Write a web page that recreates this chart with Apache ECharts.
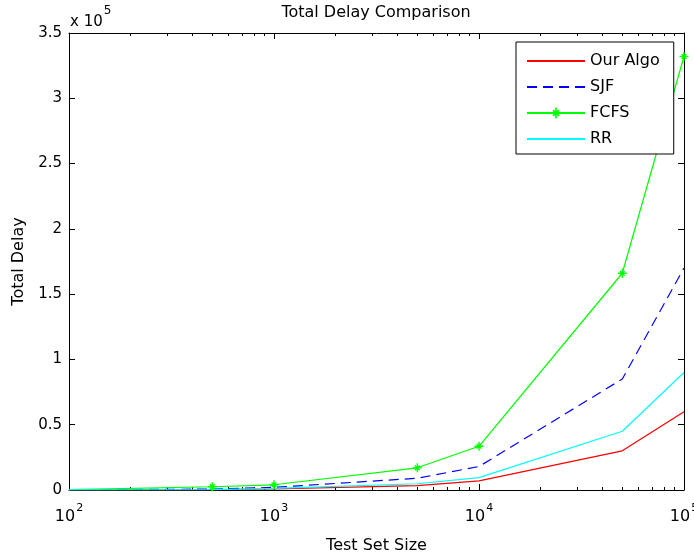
<!DOCTYPE html>
<html>
<head>
<meta charset="utf-8">
<title>Total Delay Comparison</title>
<script src="https://cdn.jsdelivr.net/npm/echarts@6/dist/echarts.min.js"></script>
<style>
html,body{margin:0;padding:0;background:#fff;}
#main{width:694px;height:558px;}
</style>
</head>
<body>
<div id="main"></div>
<script>
// test set sizes (x, log scale)
var sizes = [100, 500, 1000, 5000, 10000, 50000, 100000];
// total delay per algorithm
var ourAlgo = [50, 200, 800, 3300, 7000, 30000, 60000];
var sjf = [100, 700, 2000, 9000, 18000, 85000, 170000];
var fcfs = [300, 2500, 4000, 17000, 33500, 166000, 332000];
var rr = [80, 300, 1200, 4800, 9500, 45000, 90000];
var seriesNames = ['Our Algo', 'SJF', 'FCFS', 'RR'];
// minor ticks of the log axis
var minorTicks = [200, 300, 400, 500, 600, 700, 800, 900,
	2000, 3000, 4000, 5000, 6000, 7000, 8000, 9000,
	20000, 30000, 40000, 50000, 60000, 70000, 80000, 90000];

var font = 'DejaVu Sans, Liberation Sans, sans-serif';

// matlab '*' marker
var starPath = 'path://M-1,-0.15 L1,-0.15 L1,0.15 L-1,0.15 Z ' +
	'M-0.15,-1 L0.15,-1 L0.15,1 L-0.15,1 Z ' +
	'M-0.424,-0.636 L0.636,0.424 L0.424,0.636 L-0.636,-0.424 Z ' +
	'M-0.636,0.424 L0.424,-0.636 L0.636,-0.424 L-0.424,0.636 Z';

function pairs(ys){
	var out = [];
	for(var i=0;i<sizes.length;i++){
		out.push([sizes[i], ys[i]]);
	}
	return out;
}

var fcfsData = pairs(fcfs);
//第一个点不画标记
fcfsData[0] = {value: fcfsData[0], symbol: 'none'};

function logAxis(pos, minor){
	return {
		type: 'log',
		logBase: 10,
		min: 100,
		max: 100000,
		position: pos,
		gridIndex: 0,
		axisLine: {show: !minor, lineStyle: {color: '#000', width: 1}},
		axisTick: minor ?
			{show: true, inside: true, length: 3, customValues: minorTicks, lineStyle: {color: '#000'}} :
			{show: true, inside: true, length: 6, lineStyle: {color: '#000'}},
		axisLabel: {show: false},
		splitLine: {show: false},
		minorTick: {show: false}
	};
}

var xBottom = logAxis('bottom', false);
xBottom.axisLabel = {
	show: true,
	margin: 13,
	color: '#000',
	fontFamily: font,
	formatter: function(v){
		var e = Math.round(Math.log(v)/Math.LN10);
		return '{b|10}{s|' + e + '}';
	},
	rich: {
		b: {fontSize: 16, fontFamily: font, color: '#000'},
		s: {fontSize: 11, fontFamily: font, color: '#000', padding: [0, 0, 17, 1]}
	}
};
xBottom.name = 'Test Set Size';
xBottom.nameLocation = 'middle';
xBottom.nameGap = 48;
xBottom.nameTextStyle = {fontSize: 16, fontFamily: font, color: '#000'};

function valAxis(pos, labels){
	return {
		type: 'value',
		min: 0,
		max: 350000,
		interval: 50000,
		position: pos,
		axisLine: {show: true, lineStyle: {color: '#000', width: 1}},
		axisTick: {show: true, inside: true, length: 6, lineStyle: {color: '#000'}},
		axisLabel: {
			show: labels,
			margin: 7,
			fontSize: 15,
			fontFamily: font,
			color: '#000',
			formatter: function(v){ return String(v/100000); }
		},
		splitLine: {show: false}
	};
}

var yLeft = valAxis('left', true);
yLeft.name = 'Total Delay';
yLeft.nameLocation = 'middle';
yLeft.nameGap = 42;
yLeft.nameTextStyle = {fontSize: 16, fontFamily: font, color: '#000'};

// 图例里没有标记的线
function legendItem(name, marker){
	if(marker){
		return {name: name};
	}
	return {name: name, itemStyle: {color: 'rgba(0,0,0,0)', borderColor: 'rgba(0,0,0,0)', borderWidth: 0}};
}

var option = {
	animation: false,
	backgroundColor: '#fff',
	title: {
		text: 'Total Delay Comparison',
		left: 376,
		top: 5,
		padding: 0,
		textAlign: 'center',
		textStyle: {fontSize: 16, fontWeight: 'normal', fontFamily: font, color: '#000'}
	},
	graphic: [{
		type: 'text',
		left: 70,
		top: 5,
		style: {
			text: '{a|x 10}{b|5}',
			rich: {
				a: {fontSize: 15, fontFamily: font, fill: '#000'},
				b: {fontSize: 12, fontFamily: font, fill: '#000', padding: [0, 0, 22, 1]}
			}
		}
	}],
	grid: {left: 69, right: 10, top: 33, bottom: 68, containLabel: false, outerBoundsMode: 'none'},
	legend: {
		orient: 'vertical',
		left: 516,
		top: 42,
		padding: [11, 14, 7, 10],
		itemGap: 10,
		itemWidth: 58,
		itemHeight: 14,
		backgroundColor: '#fff',
		borderColor: '#000',
		borderWidth: 1,
		borderRadius: 0,
		textStyle: {fontSize: 16, fontFamily: font, color: '#000'},
		data: [legendItem(seriesNames[0], false), legendItem(seriesNames[1], false),
			legendItem(seriesNames[2], true), legendItem(seriesNames[3], false)]
	},
	xAxis: [xBottom, logAxis('bottom', true), logAxis('top', false), logAxis('top', true)],
	yAxis: [yLeft, valAxis('right', false)],
	series: [{
		name: seriesNames[0],
		type: 'line',
		data: pairs(ourAlgo),
		symbol: 'none',
		lineStyle: {color: '#ff0000', width: 1.2},
		itemStyle: {color: '#ff0000'}
	}, {
		name: seriesNames[1],
		type: 'line',
		data: pairs(sjf),
		symbol: 'none',
		lineStyle: {color: '#0000ff', width: 1.2, type: [10, 6]},
		itemStyle: {color: '#0000ff'}
	}, {
		name: seriesNames[2],
		type: 'line',
		data: fcfsData,
		symbol: starPath,
		symbolSize: 9,
		showAllSymbol: true,
		lineStyle: {color: '#00ff00', width: 1.2},
		itemStyle: {color: '#00ff00'}
	}, {
		name: seriesNames[3],
		type: 'line',
		data: pairs(rr),
		symbol: 'none',
		lineStyle: {color: '#00ffff', width: 1.2},
		itemStyle: {color: '#00ffff'}
	}]
};

var myChart = echarts.init(document.getElementById('main'));
myChart.setOption(option);
</script>
</body>
</html>
